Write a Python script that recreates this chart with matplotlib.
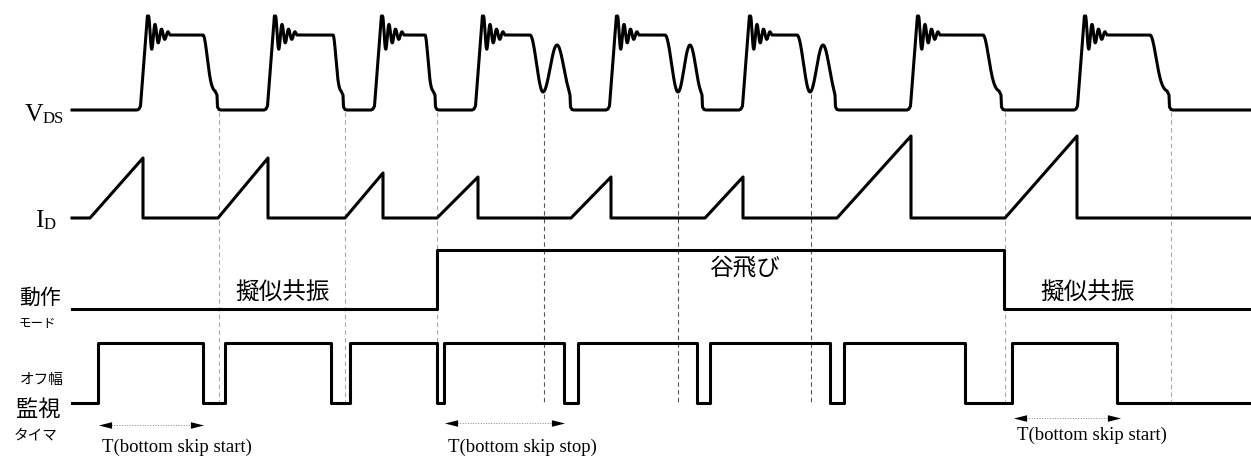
import numpy as np
import matplotlib.pyplot as plt

plt.rcParams['font.family'] = ['Liberation Serif', 'Noto Sans CJK JP']

# --- timing data (pixel-like units, x = time, y = level on the sheet) ---
x_start, x_end = 72, 1251

# VDS
vds_peak_x = [148, 275, 382, 483, 617, 750, 918, 1085]
vds_plateau_end = [203, 333, 425, 530, 665, 797, 983, 1150]
vds_valley_x = [None, None, None, 543, 678, 810, None, None]
vds_hump_x = [None, None, None, 557, 690, 823, None, None]
vds_low_x = [220, 346, 438, 573, 705, 838, 1004, 1172]
vds_low, vds_plateau, vds_peak, vds_valley, vds_hump = 110, 35, 16, 92, 45

# ID
id_ramp_x = [90, 218, 345, 437, 571, 705, 837, 1005]
id_peak_x = [143, 268, 383, 478, 611, 743, 911, 1077]
id_peak_y = [158, 158, 173, 177, 177, 177, 136, 136]
id_low = 218

# operating mode
mode_up_x, mode_down_x = 437, 1004
mode_low, mode_high = 309, 250

# off-width monitor timer
timer_rise = [98, 225, 350, 444, 578, 710, 844, 1012]
timer_fall = [203, 331, 437, 564, 697, 830, 965, 1117]
timer_low, timer_high = 403, 343

# guide lines
guide_light_x = [219, 345, 437, 1005, 1171]
guide_dark_x = [544, 678, 811]

# arrows (x0, x1, y, label)
arrow_x0 = [98, 444, 1013]
arrow_x1 = [203, 564, 1120]
arrow_y = [425, 423, 418]
arrow_labels = ['T(bottom skip start)', 'T(bottom skip stop)', 'T(bottom skip start)']
arrow_label_y = [447, 447, 435]


def vds_wave():
    xs, ys = [x_start], [vds_low]
    for i in range(len(vds_peak_x)):
        tp = vds_peak_x[i]
        t0 = tp - 8
        xs += [t0 - 3, t0 - 1, t0 + 0.5]
        ys += [vds_low, vds_low - 1, vds_low - 4]
        # spike + ringing
        t = np.linspace(0, 19.5, 160)
        a = vds_plateau - vds_peak
        y = vds_plateau - a * np.exp(-t / 11) * np.cos(2 * np.pi * t / 6.5)
        xs += [tp - 0.6] + list(tp + 0.6 + t)
        ys += [vds_peak] + list(y)
        xs.append(tp + 22)
        ys.append(vds_plateau)
        tf = vds_plateau_end[i]
        end = vds_low_x[i]
        if vds_valley_x[i] is None:
            s = (end - tf - 5) / 2
            t = np.linspace(tf, tf + 2 * s, 60)
            y = vds_plateau + 57 * (1 - np.exp(-((t - tf) / s) ** 2))
            xs += list(t)
            ys += list(y)
        else:
            tv, th = vds_valley_x[i], vds_hump_x[i]
            t = np.linspace(tf, tv, 50)
            u = (t - tf) / (tv - tf)
            xs += list(t)
            ys += list(vds_plateau + (vds_valley - vds_plateau) * (1 - np.cos(np.pi * u)) / 2)
            t = np.linspace(tv, th, 50)
            u = (t - tv) / (th - tv)
            xs += list(t)
            ys += list(vds_valley - (vds_valley - vds_hump) * (1 - np.cos(np.pi * u)) / 2)
            t = np.linspace(th, end - 5, 50)
            u = (t - th) / (th - tv)
            xs += list(t)
            ys += list(vds_hump + (vds_valley - vds_hump) * (1 - np.cos(np.pi * u)) / 2)
        xs += [end - 3, end - 2.5, end - 1, end + 1]
        ys += [vds_low - 15, vds_low - 3, vds_low - 0.5, vds_low]
    xs.append(x_end)
    ys.append(vds_low)
    return xs, ys


def id_wave():
    xs, ys = [x_start], [id_low]
    for r, px, py in zip(id_ramp_x, id_peak_x, id_peak_y):
        xs += [r, px, px]
        ys += [id_low, py, id_low]
    xs.append(x_end)
    ys.append(id_low)
    return xs, ys


def timer_wave():
    xs, ys = [x_start], [timer_low]
    for r, f in zip(timer_rise, timer_fall):
        xs += [r, r, f, f]
        ys += [timer_low, timer_high, timer_high, timer_low]
    xs.append(x_end)
    ys.append(timer_low)
    return xs, ys


fig = plt.figure(figsize=(12.51, 4.58), dpi=100)
ax = fig.add_axes([0, 0, 1, 1])
ax.set_xlim(0, 1251)
ax.set_ylim(458, 0)
ax.axis('off')

# guides
for gx in guide_light_x:
    ax.plot([gx, gx], [112, 404], color='#aaaaaa', lw=0.8, dashes=(4, 3), zorder=1)
for gx in guide_dark_x:
    ax.plot([gx, gx], [94, 404], color='#555555', lw=0.8, dashes=(4, 3), zorder=1)

sig = dict(color='black', lw=2.2, solid_joinstyle='round', zorder=3)
ax.plot(*vds_wave(), **sig)
ax.plot(*id_wave(), **sig)
ax.plot([x_start, mode_up_x, mode_up_x, mode_down_x, mode_down_x, x_end],
        [mode_low, mode_low, mode_high, mode_high, mode_low, mode_low], **sig)
ax.plot(*timer_wave(), **sig)

# arrows
head = [(-1, 0), (1, -0.5), (1, 0.5), (-1, 0)]
head_r = [(1, 0), (-1, -0.5), (-1, 0.5), (1, 0)]
for x0, x1, y, lab, ly in zip(arrow_x0, arrow_x1, arrow_y, arrow_labels, arrow_label_y):
    ax.plot([x0 + 8, x1 - 8], [y, y], color='#888888', lw=0.7, ls=':')
    ax.plot([x0 + 6.5], [y], marker=head, ms=9.5, color='black', mew=0)
    ax.plot([x1 - 6.5], [y], marker=head_r, ms=9.5, color='black', mew=0)
    ax.text(x0 + 4, ly, lab, fontsize=13.5, ha='left', va='center',
            family=['Liberation Serif'])

# signal names
ax.text(25, 121, 'V', fontsize=18.5, ha='left', va='baseline')
ax.text(43, 123, 'DS', fontsize=12, ha='left', va='baseline')
ax.text(35, 227, 'I', fontsize=18.5, ha='left', va='baseline')
ax.text(43.5, 229, 'D', fontsize=12, ha='left', va='baseline')

jp = ['Noto Sans CJK JP']
ax.text(40, 298, '動作', fontsize=15, ha='center', va='center', family=jp)
ax.text(37, 324, 'モード', fontsize=9, ha='center', va='center', family=jp)
ax.text(42, 380, 'オフ幅', fontsize=10.5, ha='center', va='center', family=jp)
ax.text(38, 409, '監視', fontsize=16, ha='center', va='center', family=jp)
ax.text(36, 435, 'タイマ', fontsize=10.5, ha='center', va='center', family=jp)

ax.text(283, 293, '擬似共振', fontsize=17, ha='center', va='center', family=jp)
ax.text(744, 268, '谷飛び', fontsize=17, ha='center', va='center', family=jp)
ax.text(1088, 293, '擬似共振', fontsize=17, ha='center', va='center', family=jp)

fig.savefig('out.png', dpi=100)
